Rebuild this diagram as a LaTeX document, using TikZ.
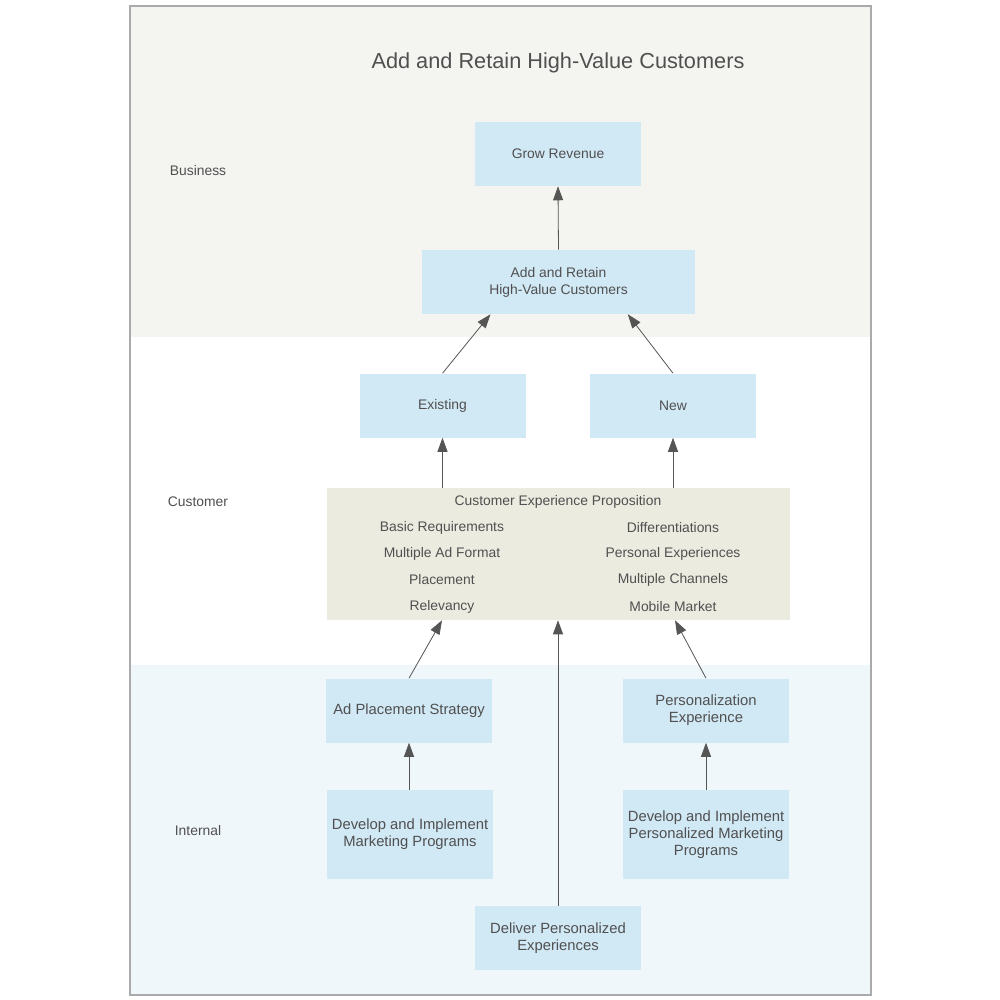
\documentclass[tikz,border=0pt]{standalone}
\usepackage{fontspec}
\setmainfont{Liberation Sans}
\usetikzlibrary{arrows.meta}
\definecolor{boxblue}{RGB}{209,232,245}
\definecolor{bandbiz}{RGB}{244,245,240}
\definecolor{bandint}{RGB}{239,247,251}
\definecolor{cepfill}{RGB}{235,235,224}
\definecolor{txt}{RGB}{80,80,80}
\definecolor{lnc}{RGB}{85,85,85}
\definecolor{frame}{RGB}{170,170,170}
\begin{document}
\begin{tikzpicture}[x=0.75pt,y=-0.75pt,
  every node/.style={text=txt,font=\fontsize{10.4}{12.7}\selectfont,inner sep=0pt,align=center},
  bluebox/.style={fill=boxblue,minimum width=124.5pt,minimum height=48pt},
  bigtxt/.style={font=\fontsize{11.1}{12.9}\selectfont},
  conn/.style={draw=lnc,line width=0.6pt,-{Triangle[width=7.5pt,length=10.5pt]}}]
\useasboundingbox (0,0) rectangle (1000,1000);
% bands
\fill[bandbiz] (130,6) rectangle (871,337);
\fill[white] (130,337) rectangle (871,665);
\fill[bandint] (130,665) rectangle (871,995);
\draw[frame,line width=0.8pt] (130,6) rectangle (871,995);
% title and lane labels
\node (title) at (558,62.5) {\fontsize{16.3}{19}\selectfont Add and Retain High-Value Customers};
\node (lbiz) at (198,171) {Business};
\node (lcus) at (198,502) {Customer};
\node (lint) at (198,831) {Internal};
% boxes
\node[bluebox] (grow) at (558,154) {Grow Revenue};
\node[bluebox,minimum width=204.75pt] (arhv) at (558.5,282) {Add and Retain\\High-Value Customers};
\node[bluebox] (exist) at (442.5,405.5) {Existing};
\node[bluebox] (new) at (673,405.5) {New};
\node[fill=cepfill,minimum width=347.25pt,minimum height=99pt] (cep) at (558.5,554) {};
\node (ceptitle) at (558,501.5) {Customer Experience Proposition};
\node (basic) at (442,528) {Basic Requirements};
\node (maf) at (442,554) {Multiple Ad Format};
\node (plc) at (442,580) {Placement};
\node (rel) at (442,607) {Relevancy};
\node (diff) at (673,528) {Differentiations};
\node (pexp) at (673,554) {Personal Experiences};
\node (mch) at (673,580) {Multiple Channels};
\node (mob) at (673,607) {Mobile Market};
\node[bluebox,bigtxt] (adp) at (409,710.5) {Ad Placement Strategy};
\node[bluebox,bigtxt] (pers) at (706,710.5) {Personalization\\Experience};
\node[bluebox,bigtxt,minimum height=66.75pt] (devm) at (410,834.5) {Develop and Implement\\Marketing Programs};
\node[bluebox,bigtxt,minimum height=66.75pt] (devp) at (706,834.5) {Develop and Implement\\Personalized Marketing\\Programs};
\node[bluebox,bigtxt] (deliv) at (558,938) {Deliver Personalized\\Experiences};
% connectors
\draw[conn] (arhv.north) -- (grow.south);
\draw[conn] (exist.north) -- ([xshift=-51pt]arhv.south);
\draw[conn] (new.north) -- ([xshift=52pt]arhv.south);
\draw[conn] (exist.south |- cep.north) -- (exist.south);
\draw[conn] (new.south |- cep.north) -- (new.south);
\draw[conn] (adp.north) -- (rel |- cep.south);
\draw[conn] (deliv.north) -- (deliv.north |- cep.south);
\draw[conn] (pers.north) -- ([xshift=1.5pt]mob |- cep.south);
\draw[conn] (devm.north -| adp.south) -- (adp.south);
\draw[conn] (devp.north) -- (pers.south);
\end{tikzpicture}
\end{document}
